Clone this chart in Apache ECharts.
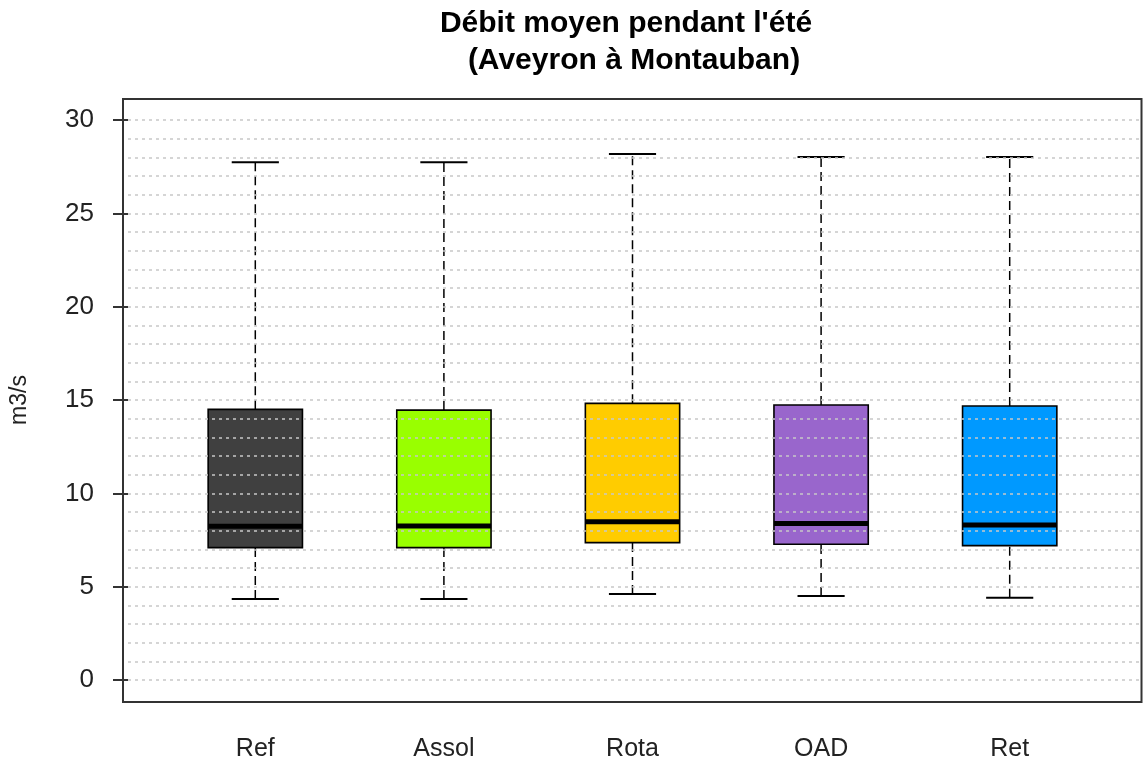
<!DOCTYPE html>
<html>
<head>
<meta charset="utf-8">
<title>Débit moyen pendant l'été</title>
<script src="https://cdn.jsdelivr.net/npm/echarts@6/dist/echarts.min.js"></script>
<style>
  html, body { margin: 0; padding: 0; background: #fff; }
  #chart { width: 1143px; height: 765px; }
</style>
</head>
<body>
<div id="chart"></div>
<script>
// Summer mean discharge, five management scenarios
const categories = ['Ref', 'Assol', 'Rota', 'OAD', 'Ret'];
const lowerWhisker = [4.34, 4.34, 4.61, 4.50, 4.41];
const lowerQuartile = [7.09, 7.09, 7.36, 7.27, 7.20];
const medianValue = [8.23, 8.25, 8.48, 8.39, 8.30];
const upperQuartile = [14.50, 14.46, 14.82, 14.73, 14.68];
const upperWhisker = [27.73, 27.73, 28.18, 28.02, 28.02];
const yTickLabels = [0, 5, 10, 15, 20, 25, 30];

const boxColors = ['#404040', '#99ff00', '#ffcc00', '#9966cc', '#0099ff'];
const FONT = '"Liberation Sans", Arial, sans-serif';

const boxData = categories.map((c, i) => [
  i, lowerWhisker[i], lowerQuartile[i], medianValue[i], upperQuartile[i], upperWhisker[i]
]);

function renderBox(params, api) {
  const idx = api.value(0);
  const band = api.size([1, 0])[0];
  const boxW = band * 0.5;
  const capW = boxW * 0.5;
  const pLow = api.coord([idx, api.value(1)]);
  const pQ1 = api.coord([idx, api.value(2)]);
  const pMed = api.coord([idx, api.value(3)]);
  const pQ3 = api.coord([idx, api.value(4)]);
  const pHigh = api.coord([idx, api.value(5)]);
  const cx = pMed[0];
  const dashed = { stroke: '#000', lineWidth: 1.5, lineDash: [9, 5], fill: null };
  const solid = { stroke: '#000', lineWidth: 2, fill: null };
  return {
    type: 'group',
    children: [
      { type: 'line', shape: { x1: cx, y1: pQ3[1], x2: cx, y2: pHigh[1] }, style: dashed },
      { type: 'line', shape: { x1: cx, y1: pLow[1], x2: cx, y2: pQ1[1] }, style: dashed },
      { type: 'line', shape: { x1: cx - capW / 2, y1: pHigh[1], x2: cx + capW / 2, y2: pHigh[1] }, style: solid },
      { type: 'line', shape: { x1: cx - capW / 2, y1: pLow[1], x2: cx + capW / 2, y2: pLow[1] }, style: solid },
      {
        type: 'rect',
        shape: { x: cx - boxW / 2, y: pQ3[1], width: boxW, height: pQ1[1] - pQ3[1] },
        style: { fill: boxColors[idx], stroke: '#000', lineWidth: 1.6 }
      },
      { type: 'line', shape: { x1: cx - boxW / 2, y1: pMed[1], x2: cx + boxW / 2, y2: pMed[1] },
        style: { stroke: '#000', lineWidth: 5, fill: null } }
    ]
  };
}

const chart = echarts.init(document.getElementById('chart'), null, { renderer: 'canvas' });

const titleStyle = { fontFamily: FONT, fontSize: 30, fontWeight: 'bold', color: '#000' };

chart.setOption({
  backgroundColor: '#ffffff',
  animation: false,
  title: [
    { text: "Débit moyen pendant l'été", left: 621, top: 4, textAlign: 'center', textStyle: titleStyle },
    { text: '(Aveyron à Montauban)', left: 629, top: 41, textAlign: 'center', textStyle: titleStyle }
  ],
  grid: [
    // plot frame
    { left: 123, right: 1.5, top: 99, bottom: 63, show: true, borderColor: '#333', borderWidth: 2, backgroundColor: 'transparent' },
    // value scale 0..30 spanning the full frame width
    { left: 123, right: 1.5, top: 120, bottom: 85 },
    // box positions
    { left: 161, right: 39, top: 120, bottom: 85 }
  ],
  xAxis: [
    { gridIndex: 0, type: 'value', show: false },
    { gridIndex: 1, type: 'value', show: false },
    {
      gridIndex: 2, type: 'category', data: categories,
      axisLine: { show: false }, axisTick: { show: false }, splitLine: { show: false },
      axisLabel: { margin: 57, fontFamily: FONT, fontSize: 25, color: '#222' }
    }
  ],
  yAxis: [
    { gridIndex: 0, type: 'value', show: false },
    {
      gridIndex: 1, type: 'value', min: 0, max: 30, interval: 5,
      name: 'm3/s', nameLocation: 'middle', nameGap: 97, nameRotate: 90,
      nameTextStyle: { fontFamily: FONT, fontSize: 23, color: '#222' },
      axisLine: { show: false },
      axisTick: { show: true, length: 15, lineStyle: { color: '#333', width: 2 } },
      axisLabel: { margin: 34, fontFamily: FONT, fontSize: 26, color: '#222',
        formatter: v => (yTickLabels.indexOf(v) >= 0 ? String(v) : '') },
      splitLine: { show: false }
    },
    {
      gridIndex: 1, type: 'value', min: 0, max: 30, interval: 1, z: 5,
      axisLine: { show: false }, axisTick: { show: false }, axisLabel: { show: false },
      splitLine: { show: true, lineStyle: { color: '#c8c8c8', width: 1.5, type: [3, 4] } }
    },
    { gridIndex: 2, type: 'value', min: 0, max: 30, show: false }
  ],
  series: [
    {
      type: 'custom',
      xAxisIndex: 2,
      yAxisIndex: 3,
      renderItem: renderBox,
      clip: false,
      encode: { x: 0, y: [1, 2, 3, 4, 5] },
      data: boxData
    }
  ]
});
</script>
</body>
</html>
